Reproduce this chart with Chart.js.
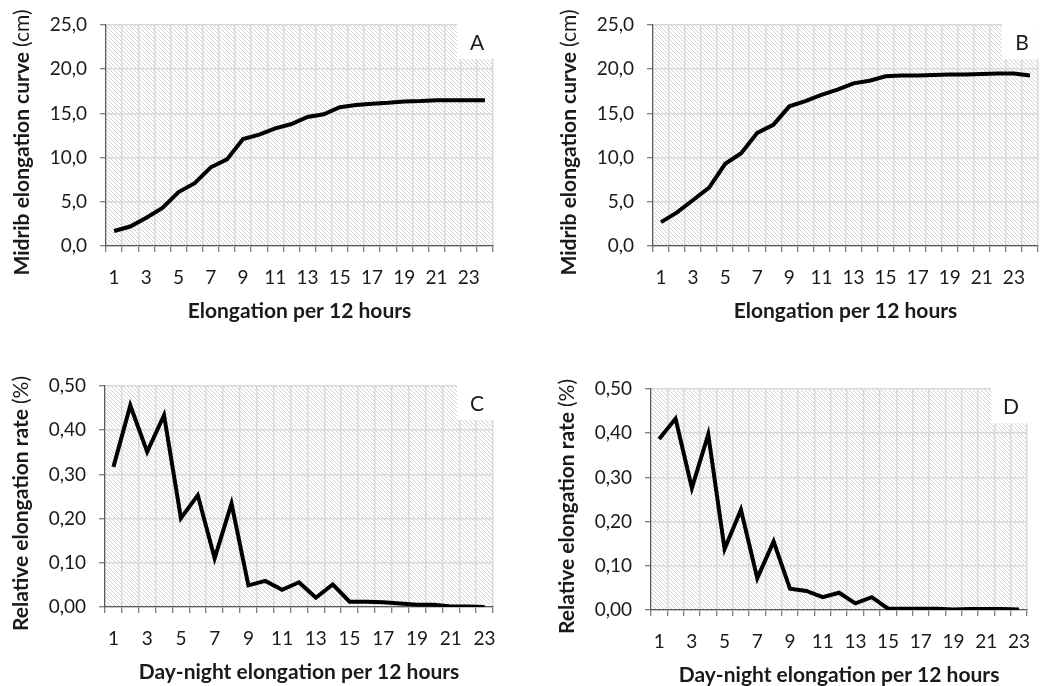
<!DOCTYPE html>
<html>
<head>
<meta charset="utf-8">
<script src="https://cdn.jsdelivr.net/npm/chart.js@4.4.1/dist/chart.umd.min.js"></script>
<style>
    html, body { margin: 0; padding: 0; background: #fff; }
    #wrap { position: relative; width: 1044px; height: 686px; }
    .panel { position: absolute; width: 522px; height: 343px; }
</style>
</head>
<body>
<div id="wrap">
    <div class="panel" style="left:0;top:0"><canvas id="chartA" width="522" height="343"></canvas></div>
    <div class="panel" style="left:522px;top:0"><canvas id="chartB" width="522" height="343"></canvas></div>
    <div class="panel" style="left:0;top:343px"><canvas id="chartC" width="522" height="343"></canvas></div>
    <div class="panel" style="left:522px;top:343px"><canvas id="chartD" width="522" height="343"></canvas></div>
</div>
<script>
/**
 * Midrib elongation panels (A-D)
 */

const periodsAB = ['1', '2', '3', '4', '5', '6', '7', '8', '9', '10', '11', '12',
    '13', '14', '15', '16', '17', '18', '19', '20', '21', '22', '23', '24'];
const periodsCD = ['1', '2', '3', '4', '5', '6', '7', '8', '9', '10', '11', '12',
    '13', '14', '15', '16', '17', '18', '19', '20', '21', '22', '23'];

// midrib elongation curve (cm)
const curveA = [1.7, 2.2, 3.2, 4.3, 6.1, 7.1, 8.9, 9.8, 12.1, 12.6, 13.3, 13.8,
    14.6, 14.9, 15.7, 15.95, 16.1, 16.2, 16.35, 16.4, 16.5, 16.5, 16.5, 16.5];
const curveB = [2.7, 3.8, 5.2, 6.6, 9.3, 10.5, 12.8, 13.7, 15.8, 16.4, 17.1, 17.7,
    18.4, 18.7, 19.2, 19.3, 19.3, 19.35, 19.4, 19.4, 19.45, 19.5, 19.5, 19.3];

// relative elongation rate (%)
const rateC = [0.317, 0.456, 0.351, 0.434, 0.201, 0.253, 0.110, 0.234, 0.049, 0.059, 0.039, 0.056,
    0.021, 0.051, 0.012, 0.012, 0.011, 0.008, 0.005, 0.005, 0.001, 0.001, 0.000];
const rateD = [0.387, 0.433, 0.276, 0.397, 0.138, 0.227, 0.072, 0.155, 0.048, 0.043, 0.029, 0.039,
    0.015, 0.029, 0.003, 0.003, 0.003, 0.003, 0.001, 0.002, 0.002, 0.002, 0.001];

const FONT = 'Lato, "Open Sans", sans-serif';
const TEXT_COLOR = '#1a1a1a';
const AXIS_COLOR = '#595959';
const GRID_COLOR = '#d9d9d9';

// small diagonal hatch tile for the plot background
const hatchTile = document.createElement('canvas');
hatchTile.width = 4;
hatchTile.height = 4;
(function drawTile() {
    const g = hatchTile.getContext('2d');
    g.strokeStyle = '#d2d2d2';
    g.lineWidth = 1;
    g.beginPath();
    g.moveTo(-1, -1); g.lineTo(5, 5);
    g.moveTo(-1, 3); g.lineTo(1, 5);
    g.moveTo(3, -1); g.lineTo(5, 1);
    g.stroke();
})();

/**
 * Hatch fill, panel letter and axis titles
 */
const panelText = {
    id: 'panelText',
    beforeDraw(chart) {
        const { ctx, chartArea: a } = chart;
        ctx.save();
        ctx.fillStyle = ctx.createPattern(hatchTile, 'repeat');
        ctx.fillRect(a.left, a.top, a.right - a.left, a.bottom - a.top);
        ctx.restore();
    },
    beforeDatasetsDraw(chart, args, opts) {
        const { ctx, chartArea: a } = chart;
        ctx.save();
        ctx.fillStyle = '#fff';
        ctx.fillRect(a.right - 36, a.top - 1, 37, 35);
        ctx.fillStyle = TEXT_COLOR;
        ctx.font = '21px ' + FONT;
        ctx.textAlign = 'center';
        ctx.textBaseline = 'middle';
        ctx.fillText(opts.letter, a.right - 16, a.top + 18);
        ctx.restore();
    },
    afterDraw(chart, args, opts) {
        const { ctx, chartArea: a } = chart;
        ctx.save();
        ctx.fillStyle = TEXT_COLOR;
        ctx.textBaseline = 'middle';

        // x title
        ctx.font = 'bold 21px ' + FONT;
        ctx.textAlign = 'center';
        ctx.fillText(opts.xTitle, (a.left + a.right) / 2, a.bottom + 65);

        // y title, bold part + plain unit
        const boldFont = 'bold 21px ' + FONT;
        const plainFont = '21px ' + FONT;
        ctx.font = boldFont;
        const wBold = ctx.measureText(opts.yTitle + ' ').width;
        ctx.font = plainFont;
        const wPlain = ctx.measureText(opts.yUnit).width;
        const total = wBold + wPlain;

        ctx.translate(a.left - 84, (a.top + a.bottom) / 2 + 7);
        ctx.rotate(-Math.PI / 2);
        ctx.textAlign = 'left';
        ctx.font = boldFont;
        ctx.fillText(opts.yTitle + ' ', -total / 2, 0);
        ctx.font = plainFont;
        ctx.fillText(opts.yUnit, -total / 2 + wBold, 0);
        ctx.restore();
    }
};

function makeChart(id, cfg) {
    const ctx = document.getElementById(id).getContext('2d');
    return new Chart(ctx, {
        type: 'line',
        data: {
            labels: cfg.labels,
            datasets: [{
                data: cfg.values,
                borderColor: '#000',
                borderWidth: 4,
                pointRadius: 0,
                tension: 0,
                fill: false
            }]
        },
        options: {
            responsive: false,
            animation: false,
            layout: {
                padding: { top: cfg.padTop, right: cfg.padRight, left: 0, bottom: 0 }
            },
            plugins: {
                legend: { display: false },
                tooltip: { enabled: false },
                panelText: {
                    letter: cfg.letter,
                    xTitle: cfg.xTitle,
                    yTitle: cfg.yTitle,
                    yUnit: cfg.yUnit
                }
            },
            scales: {
                x: {
                    offset: true,
                    grid: {
                        offset: true,
                        color: GRID_COLOR,
                        lineWidth: 1.5,
                        tickColor: AXIS_COLOR,
                        tickLength: 6,
                        tickWidth: 1
                    },
                    border: { color: AXIS_COLOR, width: 1.2 },
                    ticks: {
                        autoSkip: false,
                        maxRotation: 0,
                        padding: 14,
                        color: TEXT_COLOR,
                        font: { family: FONT, size: 19 },
                        callback: function(val, idx) {
                            return idx % 2 === 0 ? this.getLabelForValue(val) : '';
                        }
                    },
                    afterFit: (scale) => { scale.height = 343 - cfg.plotBottom; }
                },
                y: {
                    min: 0,
                    max: cfg.yMax,
                    grid: {
                        color: GRID_COLOR,
                        lineWidth: 1.5,
                        tickColor: AXIS_COLOR,
                        tickLength: 6,
                        tickWidth: 1
                    },
                    border: { color: AXIS_COLOR, width: 1.2 },
                    ticks: {
                        stepSize: cfg.yStep,
                        padding: 13,
                        color: TEXT_COLOR,
                        font: { family: FONT, size: 19 },
                        callback: (v) => v.toFixed(cfg.decimals).replace('.', ',')
                    },
                    afterFit: (scale) => { scale.width = cfg.plotLeft; }
                }
            }
        },
        plugins: [panelText]
    });
}

makeChart('chartA', {
    labels: periodsAB, values: curveA, letter: 'A',
    plotLeft: 106, padRight: 29, padTop: 25, plotBottom: 246,
    yMax: 25, yStep: 5, decimals: 1,
    xTitle: 'Elongation per 12 hours', yTitle: 'Midrib elongation curve', yUnit: '(cm)'
});
makeChart('chartB', {
    labels: periodsAB, values: curveB, letter: 'B',
    plotLeft: 131, padRight: 4, padTop: 25, plotBottom: 246,
    yMax: 25, yStep: 5, decimals: 1,
    xTitle: 'Elongation per 12 hours', yTitle: 'Midrib elongation curve', yUnit: '(cm)'
});
makeChart('chartC', {
    labels: periodsCD, values: rateC, letter: 'C',
    plotLeft: 105, padRight: 29, padTop: 43, plotBottom: 264,
    yMax: 0.5, yStep: 0.1, decimals: 2,
    xTitle: 'Day-night elongation per 12 hours', yTitle: 'Relative elongation rate', yUnit: '(%)'
});
makeChart('chartD', {
    labels: periodsCD, values: rateD, letter: 'D',
    plotLeft: 129, padRight: 3, padTop: 46, plotBottom: 267,
    yMax: 0.5, yStep: 0.1, decimals: 2,
    xTitle: 'Day-night elongation per 12 hours', yTitle: 'Relative elongation rate', yUnit: '(%)'
});
</script>
</body>
</html>
